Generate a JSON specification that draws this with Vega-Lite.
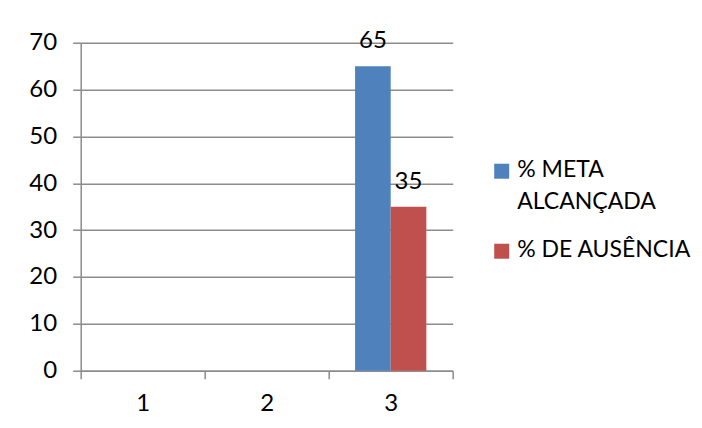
{
  "$schema": "https://vega.github.io/schema/vega-lite/v6.json",
  "width": 372,
  "height": 328,
  "autosize": {"type": "none"},
  "padding": {"left": 80.7, "top": 42.7, "right": 249.3, "bottom": 57.3},
  "background": "white",
  "data": {
    "values": [
      {"cat": "3", "series": "% META ALCANÇADA", "value": 65},
      {"cat": "3", "series": "% DE AUSÊNCIA", "value": 35}
    ]
  },
  "encoding": {
    "x": {
      "field": "cat",
      "type": "nominal",
      "scale": {"domain": ["1", "2", "3"], "paddingInner": 0, "paddingOuter": 0},
      "axis": {
        "title": null,
        "labelAngle": 0,
        "tickBand": "extent",
        "tickSize": 8,
        "tickColor": "#8C8C8C",
        "tickWidth": 1.5,
        "domainColor": "#8C8C8C",
        "domainWidth": 1.5,
        "labelPadding": 13,
        "labelFontSize": 24,
        "labelFont": "Lato",
        "labelColor": "#000000",
        "grid": false
      }
    },
    "xOffset": {
      "field": "series",
      "type": "nominal",
      "scale": {"domain": ["% META ALCANÇADA", "% DE AUSÊNCIA"], "paddingInner": 0, "paddingOuter": 0.74}
    },
    "y": {
      "field": "value",
      "type": "quantitative",
      "scale": {"domain": [0, 70], "nice": false},
      "axis": {
        "title": null,
        "values": [0, 10, 20, 30, 40, 50, 60, 70],
        "grid": true,
        "gridColor": "#8C8C8C",
        "gridWidth": 1.5,
        "tickSize": 8,
        "tickColor": "#8C8C8C",
        "tickWidth": 1.5,
        "domainColor": "#8C8C8C",
        "domainWidth": 1.5,
        "labelPadding": 16,
        "labelFontSize": 24,
        "labelFont": "Lato",
        "labelColor": "#000000"
      }
    }
  },
  "layer": [
    {
      "mark": {"type": "bar"},
      "encoding": {
        "color": {
          "field": "series",
          "type": "nominal",
          "scale": {"domain": ["% META ALCANÇADA", "% DE AUSÊNCIA"], "range": ["#4F81BD", "#C0504D"]},
          "legend": {
            "title": null,
            "orient": "none",
            "legendX": 409.5,
            "legendY": 104.5,
            "padding": 0,
            "symbolType": "M-1,0.67H1V2.67H-1Z",
            "symbolSize": 225,
            "symbolStrokeWidth": 0,
            "symbolOpacity": 1,
            "labelFontSize": 23,
            "labelFont": "Lato",
            "labelColor": "#000000",
            "labelOffset": 4,
            "labelBaseline": "top",
            "labelLimit": 300,
            "rowPadding": 13,
            "labelExpr": "datum.label == '% META ALCANÇADA' ? ['% META', 'ALCANÇADA'] : datum.label"
          }
        }
      }
    },
    {
      "mark": {"type": "text", "dy": -18, "baseline": "alphabetic", "fontSize": 24, "font": "Lato", "color": "#000000"},
      "encoding": {"text": {"field": "value", "type": "quantitative"}}
    }
  ],
  "config": {
    "view": {"stroke": null},
    "style": {"guide-label": {"lineHeight": 32.5}}
  }
}
